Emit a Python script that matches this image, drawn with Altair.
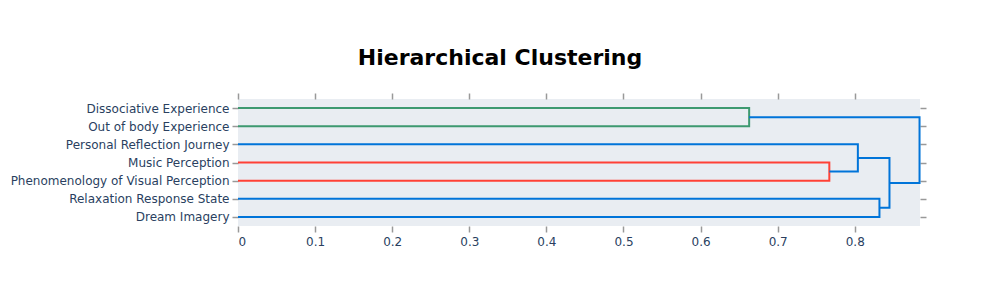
import altair as alt
import pandas as pd

# Leaf labels, top to bottom, and their positions on the leaf axis
leaf_names = ["Dissociative Experience", "Out of body Experience", "Personal Reflection Journey",
              "Music Perception", "Phenomenology of Visual Perception", "Relaxation Response State",
              "Dream Imagery"]
leaf_pos = [65, 55, 45, 35, 25, 15, 5]

# Dendrogram links: each joins child a (y_a, start x_a) and child b (y_b, start x_b) at merge height h
link_h = [0.663, 0.767, 0.804, 0.832, 0.845, 0.884]
link_ya = [65, 35, 45, 15, 37.5, 60]
link_xa = [0, 0, 0, 0, 0.804, 0.663]
link_yb = [55, 25, 30, 5, 10, 23.75]
link_xb = [0, 0, 0.767, 0, 0.832, 0.845]
link_color = ["rgb(61,153,112)", "rgb(255,65,54)", "rgb(0,116,217)", "rgb(0,116,217)",
              "rgb(0,116,217)", "rgb(0,116,217)"]

x_ticks = [0, 0.1, 0.2, 0.3, 0.4, 0.5, 0.6, 0.7, 0.8]
x_max = 0.8846
y_max = 70

rows = []
for i in range(len(link_h)):
    pts = [(link_xa[i], link_ya[i]), (link_h[i], link_ya[i]), (link_h[i], link_yb[i]), (link_xb[i], link_yb[i])]
    for k, (xv, yv) in enumerate(pts):
        rows.append({"link": i, "order": k, "x": xv, "y": yv, "color": link_color[i]})
df = pd.DataFrame(rows)

label_map = "{" + ",".join(f"'{p}':'{n}'" for p, n in zip(leaf_pos, leaf_names)) + "}"

FONT = "DejaVu Sans"
TICK_COL = "#999999"
LAB_COL = "#2a3f5f"
BG = "#E9EDF2"

xscale = alt.Scale(domain=[0, x_max], nice=False, zero=False)
yscale = alt.Scale(domain=[0, y_max], nice=False, zero=False)

base = alt.Chart(df)

lines = base.mark_line(strokeWidth=2, interpolate="linear").encode(
    x=alt.X("x:Q", scale=xscale,
            axis=alt.Axis(orient="bottom", values=x_ticks, title=None, grid=False, domain=False,
                          tickColor=TICK_COL, tickSize=6, tickWidth=1.5, labelColor=LAB_COL,
                          labelFont=FONT, labelFontSize=12, labelPadding=4, format="~g")),
    y=alt.Y("y:Q", scale=yscale,
            axis=alt.Axis(orient="left", values=leaf_pos, title=None, grid=False, domain=False,
                          tickColor=TICK_COL, tickSize=6, tickWidth=1.5, labelColor=LAB_COL,
                          labelFont=FONT, labelFontSize=12, labelPadding=3, labelLimit=0,
                          labelExpr=f"{label_map}[datum.value]")),
    detail="link:N",
    order="order:Q",
    color=alt.Color("color:N", scale=None),
)

mirror = base.mark_point(opacity=0).encode(
    x=alt.X("x:Q", scale=xscale,
            axis=alt.Axis(orient="top", values=x_ticks, title=None, grid=False, domain=False,
                          tickColor=TICK_COL, tickSize=6, tickWidth=1.5, labels=False)),
    y=alt.Y("y:Q", scale=yscale,
            axis=alt.Axis(orient="right", values=leaf_pos, title=None, grid=False, domain=False,
                          tickColor=TICK_COL, tickSize=6, tickWidth=1.5, labels=False)),
)

chart = alt.layer(mirror, lines).resolve_axis(x="independent", y="independent").properties(
    width=682,
    height=127,
    autosize=alt.AutoSizeParams(type="none"),
    padding={"left": 230, "top": 91, "right": 70, "bottom": 60},
    view=alt.ViewBackground(fill=BG, stroke="transparent", strokeWidth=0),
    title=alt.TitleParams("Hierarchical Clustering", anchor="middle", font=FONT, fontSize=22,
                          fontWeight="bold", color="black", dx=-79, offset=22),
).configure_view(fill=BG, stroke="transparent", strokeWidth=0).configure(background="white")

chart.save("out.html", embed_options={"renderer": "svg", "actions": False})
